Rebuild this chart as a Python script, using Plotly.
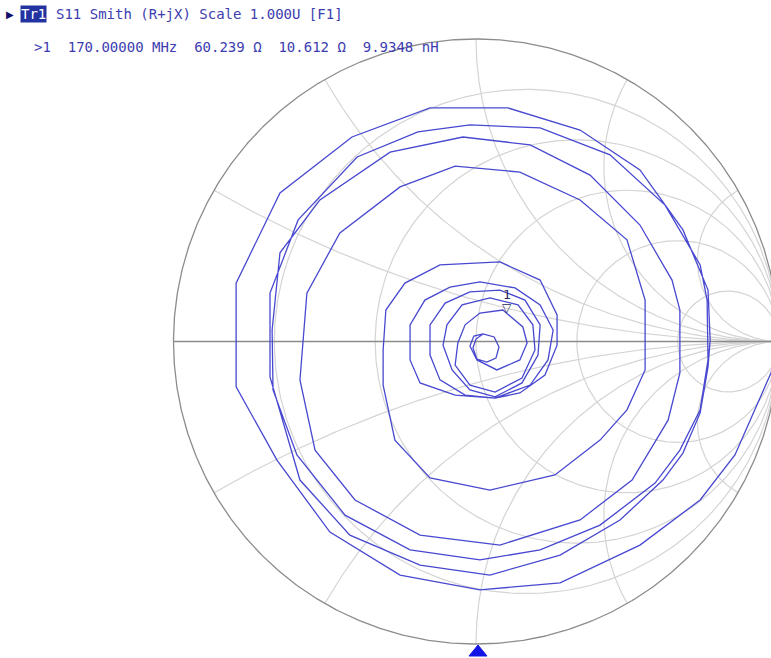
import numpy as np
import plotly.graph_objects as go

# ---------------- data (reflection coefficient S11, real / imag) ----------------
s11_re = [0.995, 0.975, 0.856, 0.741, 0.542, 0.278, 0.013, -0.251, -0.483, -0.658, -0.793,
          -0.793, -0.648, -0.410, -0.152, 0.106, 0.344, 0.542, 0.684, 0.767, 0.774,
          0.767, 0.741, 0.684, 0.618, 0.476, 0.278, 0.046, -0.185, -0.417, -0.582, -0.681,
          -0.681, -0.588, -0.393, -0.192, -0.020, 0.212, 0.443, 0.625, 0.741, 0.764,
          0.767, 0.741, 0.674, 0.592, 0.410, 0.212, 0.013, -0.218, -0.433, -0.592, -0.671,
          -0.674, -0.648, -0.516, -0.284, -0.043, 0.179, 0.377, 0.542, 0.648, 0.674,
          0.674, 0.635, 0.516, 0.344, 0.079, -0.185, -0.400, -0.532, -0.582,
          -0.559, -0.450, -0.251, -0.069, 0.145, 0.344, 0.499, 0.559,
          0.559, 0.499, 0.410, 0.261, 0.046, -0.152, -0.268, -0.307,
          -0.307, -0.298, -0.235, -0.119, 0.079, 0.212, 0.268,
          0.268, 0.228, 0.145, 0.063, -0.069, -0.185, -0.218,
          -0.218, -0.169, -0.086, 0.013, 0.129, 0.212, 0.255,
          0.238, 0.179, 0.063, -0.036, -0.119, -0.152,
          -0.152, -0.102, -0.020, 0.079, 0.162, 0.212,
          0.205, 0.152, 0.063, -0.020, -0.079, -0.109,
          -0.096, -0.046, 0.046, 0.139, 0.188,
          0.195, 0.152, 0.063, -0.020, -0.069, -0.060,
          -0.036, 0.013, 0.089, 0.155, 0.169,
          0.145, 0.069, 0.003, -0.020, -0.007,
          0.023, 0.060, 0.076, 0.066, 0.036, 0.003, -0.010, 0.000, 0.023]
s11_im = [-0.028, -0.104, -0.375, -0.524, -0.673, -0.798, -0.821, -0.772, -0.630, -0.392, -0.150,
          0.193, 0.491, 0.676, 0.772, 0.772, 0.699, 0.567, 0.369, 0.170, 0.005,
          -0.084, -0.236, -0.369, -0.458, -0.590, -0.706, -0.772, -0.739, -0.640, -0.458, -0.117,
          0.160, 0.402, 0.610, 0.693, 0.716, 0.706, 0.617, 0.451, 0.253, 0.137,
          -0.061, -0.226, -0.359, -0.468, -0.607, -0.689, -0.722, -0.689, -0.574, -0.375, -0.160,
          0.038, 0.293, 0.468, 0.626, 0.676, 0.650, 0.550, 0.385, 0.203, 0.104,
          -0.104, -0.260, -0.458, -0.590, -0.673, -0.640, -0.524, -0.359, -0.127,
          0.160, 0.359, 0.511, 0.580, 0.560, 0.468, 0.336, 0.137,
          -0.094, -0.226, -0.326, -0.441, -0.491, -0.451, -0.326, -0.144,
          -0.028, 0.104, 0.193, 0.253, 0.263, 0.203, 0.088,
          -0.012, -0.111, -0.170, -0.187, -0.177, -0.137, -0.061,
          0.055, 0.137, 0.180, 0.197, 0.177, 0.121, 0.038,
          -0.061, -0.144, -0.187, -0.177, -0.127, -0.045,
          0.055, 0.127, 0.164, 0.170, 0.137, 0.055,
          -0.045, -0.137, -0.183, -0.160, -0.094, -0.012,
          0.055, 0.121, 0.144, 0.121, 0.055,
          -0.028, -0.121, -0.167, -0.144, -0.078, -0.005,
          0.055, 0.094, 0.104, 0.048, -0.005,
          -0.061, -0.094, -0.061, -0.015, 0.018,
          0.025, 0.015, -0.018, -0.055, -0.068, -0.058, -0.021, 0.008, 0.025]

# marker 1 readout
marker_freq = "170.00000 MHz"
marker_R = 60.239     # ohm
marker_X = 10.612     # ohm
marker_L = "9.9348 nH"
Z0 = 50.0

# Smith grid values
r_grid = [0.2, 0.5, 1.0, 2.0, 5.0]
x_grid = [float(np.tan(np.radians(a))) for a in (15, 30, 45, 60, 75)]

header = "S11 Smith (R+jX) Scale 1.000U [F1]"

# ---------------- layout constants (pixels) ----------------
W, H = 771, 658
CX, CY, RAD = 476.0, 341.5, 302.5
xr = [-CX / RAD, (W - CX) / RAD]
yr = [(CY - H) / RAD, CY / RAD]

GRID = "#d4d4d4"
EDGE = "#8c8c8c"
TRACE = "#4848d0"
TXT = "#3c3cb0"

fig = go.Figure()

def gamma(z):
    return (z - 1) / (z + 1)

# resistance circles
for r in r_grid:
    t = np.linspace(0, 2 * np.pi, 361)
    c, rad = r / (1 + r), 1 / (1 + r)
    fig.add_trace(go.Scatter(x=c + rad * np.cos(t), y=rad * np.sin(t), mode="lines",
                             line=dict(color=GRID, width=1.2), hoverinfo="skip", showlegend=False))
# reactance arcs
rr = np.concatenate([[0.0], np.logspace(-3, 4, 600)])
for xv in x_grid:
    for s in (1, -1):
        g = gamma(rr + 1j * s * xv)
        fig.add_trace(go.Scatter(x=g.real, y=g.imag, mode="lines",
                                 line=dict(color=GRID, width=1.2), hoverinfo="skip", showlegend=False))
# outer circle and real axis
t = np.linspace(0, 2 * np.pi, 721)
fig.add_trace(go.Scatter(x=np.cos(t), y=np.sin(t), mode="lines",
                         line=dict(color=EDGE, width=1.3), hoverinfo="skip", showlegend=False))
fig.add_trace(go.Scatter(x=[-1, 1], y=[0, 0], mode="lines",
                         line=dict(color=EDGE, width=1.3), hoverinfo="skip", showlegend=False))

# measured trace
fig.add_trace(go.Scatter(x=s11_re, y=s11_im, mode="lines",
                         line=dict(color=TRACE, width=1.3), showlegend=False))

# marker
zm = complex(marker_R, marker_X) / Z0
gm = gamma(zm)
fig.add_annotation(x=gm.real, y=gm.imag, text="▽", showarrow=False, yshift=7,
                   font=dict(family="DejaVu Sans", size=12, color="#2a2a60"))
fig.add_annotation(x=gm.real, y=gm.imag, text="1", showarrow=False, yshift=21,
                   font=dict(family="DejaVu Sans Mono", size=13, color="#2a2a60"))

def px(xp):
    return xp / W

def py(yp):
    return 1 - yp / H

mono = "DejaVu Sans Mono"
fig.add_annotation(x=px(4), y=py(14), xref="paper", yref="paper", text="▶", showarrow=False,
                   xanchor="left", yanchor="middle", font=dict(family="DejaVu Sans", size=10, color="#10106a"))
fig.add_annotation(x=px(20), y=py(14), xref="paper", yref="paper", text="Tr1", showarrow=False,
                   xanchor="left", yanchor="middle", bgcolor="#2232a0", borderpad=0,
                   font=dict(family=mono, size=14, color="white"))
fig.add_annotation(x=px(54), y=py(14), xref="paper", yref="paper", text=header, showarrow=False,
                   xanchor="left", yanchor="middle", font=dict(family=mono, size=14, color=TXT))
line2 = f">1  {marker_freq}  {marker_R:.3f} Ω  {marker_X:.3f} Ω  {marker_L}"
fig.add_annotation(x=px(32), y=py(47), xref="paper", yref="paper", text=line2.replace(" ", "&nbsp;"),
                   showarrow=False, xanchor="left", yanchor="middle",
                   font=dict(family=mono, size=14, color=TXT))

# stimulus indicator at bottom
fig.add_shape(type="path", xref="paper", yref="paper",
              path=f"M {px(478)} {py(645)} L {px(487)} {py(656)} L {px(469)} {py(656)} Z",
              fillcolor="#1414e6", line=dict(color="#1414e6", width=1))

fig.update_layout(width=W, height=H, margin=dict(l=0, r=0, t=0, b=0),
                  paper_bgcolor="white", plot_bgcolor="white",
                  xaxis=dict(range=xr, visible=False, fixedrange=True),
                  yaxis=dict(range=yr, visible=False, fixedrange=True),
                  showlegend=False)
fig.write_html("out.html", config={"displayModeBar": False},
               post_script="document.body.style.margin='0';document.body.style.overflow='hidden';")
